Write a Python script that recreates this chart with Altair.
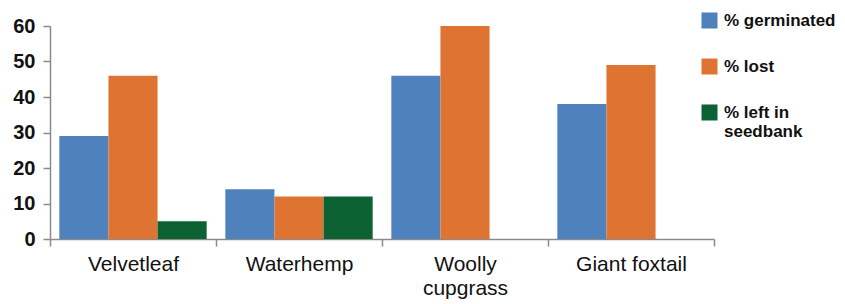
import altair as alt
import pandas as pd

categories = ["Velvetleaf", "Waterhemp", "Woolly cupgrass", "Giant foxtail"]
series = ["% germinated", "% lost", "% left in seedbank"]
germinated = [29, 14, 46, 38]
lost = [46, 12, 60, 49]
left_in_seedbank = [5, 12, 0, 0]
colors = ["#4F81BD", "#DF7432", "#0D6233"]
y_ticks = [0, 10, 20, 30, 40, 50, 60]

rows = []
for i, c in enumerate(categories):
    for s, vals in zip(series, [germinated, lost, left_in_seedbank]):
        rows.append({"category": c, "series": s, "value": vals[i]})
df = pd.DataFrame(rows)

W, H = 664, 213

bars = alt.Chart(df).mark_bar().encode(
    x=alt.X("category:N", sort=categories, title=None,
            scale=alt.Scale(paddingInner=0, paddingOuter=0),
            axis=alt.Axis(
                tickBand="extent", labelAngle=0, labelFont="Liberation Sans",
                labelFontSize=21, labelColor="#111", labelPadding=7,
                domainColor="#8a8a8a", domainWidth=1.5, tickColor="#8a8a8a",
                tickWidth=1.5, tickSize=7,
                labelExpr="datum.label == 'Woolly cupgrass' ? ['Woolly', 'cupgrass'] : datum.label",
                labelLineHeight=24,
            )),
    xOffset=alt.XOffset("series:N", sort=series,
                        scale=alt.Scale(paddingInner=0, paddingOuter=0.19)),
    y=alt.Y("value:Q", title=None,
            scale=alt.Scale(domain=[0, 60], nice=False),
            axis=alt.Axis(values=y_ticks, grid=False, labelFont="Liberation Sans",
                          labelFontWeight="bold", labelFontSize=20, labelColor="#111",
                          labelPadding=8, domainColor="#8a8a8a", domainWidth=1.5,
                          tickColor="#8a8a8a", tickWidth=1.5, tickSize=7)),
    color=alt.Color("series:N", sort=series,
                    scale=alt.Scale(domain=series, range=colors),
                    legend=alt.Legend(
                        title=None, orient="none", legendX=651, legendY=-14,
                        symbolType="square", symbolSize=256, symbolStrokeWidth=0,
                        symbolOpacity=1,
                        labelFont="Liberation Sans", labelFontWeight="bold",
                        labelFontSize=17, labelColor="#111", labelOffset=6,
                        rowPadding=28, padding=0, labelLimit=200,
                        labelExpr="datum.label == '% left in seedbank' ? ['% left in', 'seedbank'] : datum.label",
                    )),
)

chart = bars.properties(
    width=W, height=H,
    autosize=alt.AutoSizeParams(type="none"),
    padding={"left": 42, "top": 18, "right": 123, "bottom": 62},
    background="white",
).configure_view(stroke=None)

chart.save("out.html", embed_options={"renderer": "svg", "actions": False})
